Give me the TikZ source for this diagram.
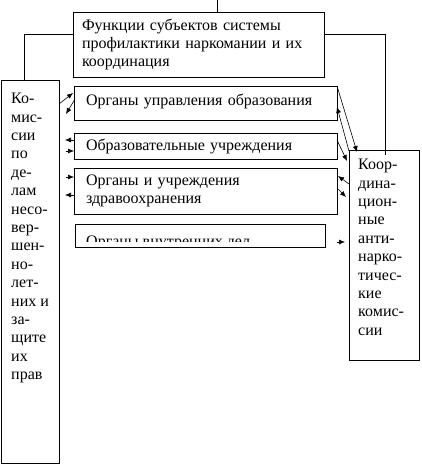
\documentclass[tikz,border=0pt]{standalone}
\usepackage{fontspec}
\setmainfont{Liberation Serif}
\usetikzlibrary{shapes, arrows.meta, positioning, shadows}
\tikzstyle{bloque} = [draw, fill=white, line width=0.8pt, rectangle, anchor=north west, outer sep=0pt, inner sep=0pt, drop shadow={shadow xshift=1.2pt, shadow yshift=-1.2pt, fill=gray!60, opacity=1}]
\tikzstyle{texto} = [align=left, anchor=north west, inner sep=0pt]
\tikzstyle{flecha} = [-{Latex[length=6pt, width=5pt]}, line width=0.6pt]
\tikzstyle{linea} = [line width=0.8pt]
\begin{document}
\begin{tikzpicture}[x=1pt, y=-1pt, font=\fontsize{16}{18.4}\selectfont]
	\useasboundingbox (0,0) rectangle (421,465);
	\node[bloque, minimum width=251pt, minimum height=65pt, text width=233pt, inner xsep=9pt, align=left] (funciones) at (73,12) {Функции субъектов системы\\ профилактики наркомании и их\\ координация};
	\node[bloque, minimum width=251pt, minimum height=34pt, text width=239pt, inner xsep=12pt, text depth=7pt, align=left] (upr) at (74,86) {Органы управления образования};
	\node[bloque, minimum width=251pt, minimum height=26pt, text width=239pt, inner xsep=12pt, align=left] (uchr) at (74,133) {Образовательные учреждения};
	\node[bloque, minimum width=251pt, minimum height=46pt, text width=239pt, inner xsep=12pt, align=left] (zdrav) at (74,168) {Органы и учреждения\\ здравоохранения};
	\node[bloque, minimum width=250pt, minimum height=23pt] (vd) at (75,224) {};
	\begin{scope}
		\clip (vd.north west) rectangle ([yshift=5.5pt]vd.south east);
		\node[anchor=base west, inner sep=0pt] (vdtexto) at ([xshift=11pt, yshift=0.5pt]vd.south west) {Органы внутренних дел};
	\end{scope}
	\node[bloque, minimum width=58pt, minimum height=383pt, label={[texto, inner xsep=10pt, inner ysep=13pt]north west:Ко-\\мис-\\сии\\по\\де-\\лам\\несо-\\вер-\\шен-\\но-\\лет-\\них и\\за-\\щите\\их\\прав}] (kdn) at (1,80) {};
	\node[bloque, minimum width=70pt, minimum height=210pt, label={[texto, inner xsep=9pt, inner ysep=9pt]north west:Коор-\\дина-\\цион-\\ные\\анти-\\нарко-\\тичес-\\кие\\комис-\\сии}] (kan) at (349,150) {};
	% lineas de enlace
	\coordinate (arriba) at (217,0);
	\draw[linea] (arriba) -- (arriba |- funciones.north);
	\draw[linea] ([yshift=10pt]funciones.west) -| ([xshift=23pt]kdn.north west);
	\draw[linea] ([yshift=10pt]funciones.east) -| ([xshift=36pt, yshift=-5pt]kan.north west);
	% flechas izquierda
	\draw[flecha] ([yshift=-24pt]kdn.north east) -- ([xshift=-1pt, yshift=-7pt]upr.north west);
	\draw[flecha] ([xshift=1pt, yshift=-13pt]upr.north west) -- ([xshift=7pt, yshift=-34pt]kdn.north east);
	\draw[flecha] ([yshift=-7pt]uchr.north west) -- ([xshift=-9pt, yshift=-7pt]uchr.north west);
	\draw[flecha] ([xshift=-8pt, yshift=-18pt]uchr.north west) -- ([yshift=-18pt]uchr.north west);
	\draw[flecha] ([xshift=-8pt, yshift=-9pt]zdrav.north west) -- ([yshift=-9pt]zdrav.north west);
	\draw[flecha] ([yshift=-27pt]zdrav.north west) -- ([xshift=-9pt, yshift=-27pt]zdrav.north west);
	% flechas derecha
	\draw[flecha] (upr.north east) -- ([xshift=8pt, yshift=-2pt]kan.north west);
	\draw[flecha] ([yshift=-1pt]kan.north west) -- ([yshift=-21pt]upr.north east);
	\draw[flecha] ([yshift=-7pt]uchr.north east) -- ([xshift=-2pt, yshift=-11pt]kan.north west);
	\draw[flecha] ([yshift=-34pt]kan.north west) -- ([xshift=1pt, yshift=-8pt]zdrav.north east);
	\draw[flecha] ([yshift=-20pt]zdrav.north east) -- ([xshift=-3pt, yshift=-47pt]kan.north west);
	\coordinate (libre) at ([xshift=12pt, yshift=-18pt]vd.north east);
	\draw[flecha] (libre) -- ([xshift=-4pt, yshift=-92pt]kan.north west);
\end{tikzpicture}
\end{document}
